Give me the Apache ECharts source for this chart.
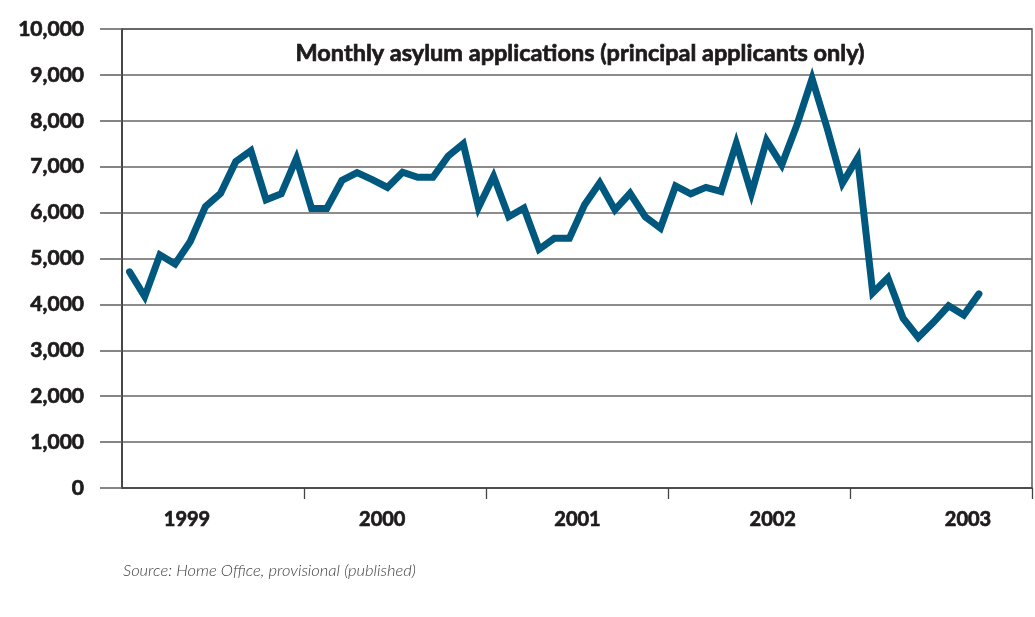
<!DOCTYPE html>
<html>
<head>
<meta charset="utf-8">
<title>Monthly asylum applications</title>
<script src="https://cdn.jsdelivr.net/npm/echarts@6/dist/echarts.min.js"></script>
<style>
  html, body { margin: 0; padding: 0; background: #ffffff; }
  #chart { width: 1035px; height: 617px; }
</style>
</head>
<body>
<div id="chart"></div>
<script>
// Year labels shown under the axis
const years = ['1999', '2000', '2001', '2002', '2003'];

// Monthly principal asylum applications, Jan 1999 onwards
const apps1999 = [4710, 4170, 5080, 4880, 5370, 6130, 6420, 7110, 7350, 6280, 6410, 7180];
const apps2000 = [6090, 6090, 6700, 6870, 6720, 6550, 6880, 6770, 6770, 7230, 7500, 6110];
const apps2001 = [6790, 5910, 6100, 5200, 5440, 5440, 6170, 6650, 6060, 6420, 5910, 5660];
const apps2002 = [6580, 6410, 6550, 6460, 7510, 6420, 7570, 7040, 7910, 8920, 7830, 6640];
const apps2003 = [7190, 4250, 4580, 3700, 3280, 3610, 3970, 3770, 4230];

// Y axis range
const yMin = 0;
const yMax = 10000;
const yStep = 1000;

const months = [];
years.forEach(y => {
  for (let m = 1; m <= 12; m++) months.push(y + '-' + String(m).padStart(2, '0'));
});
const applications = [].concat(apps1999, apps2000, apps2001, apps2002, apps2003);

const FONT = 'Lato, "Open Sans", sans-serif';
const INK = '#1e1b1c';
const GRID = '#666666';
// heavy text: bold face with a thin stroke in the same ink
const heavy = { fontFamily: FONT, fontWeight: 'bold', color: INK, textBorderColor: INK, textBorderWidth: 0.7 };

const chart = echarts.init(document.getElementById('chart'), null, { renderer: 'canvas' });

chart.setOption({
  animation: false,
  backgroundColor: '#ffffff',
  title: [
    {
      text: 'Monthly asylum applications (principal applicants only)',
      left: 575,
      top: 36,
      textAlign: 'center',
      textStyle: Object.assign({ fontSize: 23.5 }, heavy)
    },
    {
      text: 'Source: Home Office, provisional (published)',
      left: 118,
      top: 557,
      textStyle: { fontFamily: FONT, fontStyle: 'italic', fontWeight: 300, fontSize: 16.5, color: '#404040' }
    }
  ],
  grid: [
    { left: 122, right: 3, top: 29, bottom: 129, show: true, borderColor: '#444', borderWidth: 1.3 },
    // band used only to place the year labels
    { left: 187, width: 781, top: 29, bottom: 129 }
  ],
  xAxis: [
    {
      type: 'category',
      gridIndex: 0,
      data: months,
      boundaryGap: true,
      axisLine: { show: true, lineStyle: { color: '#444', width: 1.5 } },
      axisTick: {
        show: true,
        interval: i => i > 0 && i % 12 === 0,
        length: 11,
        lineStyle: { color: '#444', width: 1.3 }
      },
      axisLabel: { show: false },
      splitLine: { show: false }
    },
    {
      type: 'category',
      gridIndex: 1,
      data: years,
      boundaryGap: false,
      axisLine: { show: false },
      axisTick: { show: false },
      axisLabel: Object.assign({ margin: 22, fontSize: 20 }, heavy),
      splitLine: { show: false }
    }
  ],
  yAxis: [
    {
      type: 'value',
      gridIndex: 0,
      min: yMin,
      max: yMax,
      interval: yStep,
      axisLine: { show: true, lineStyle: { color: '#333', width: 1.5 } },
      axisTick: { show: true, length: 22, lineStyle: { color: GRID, width: 1.6 } },
      axisLabel: Object.assign({
        margin: 38,
        fontSize: 21,
        formatter: v => v.toLocaleString('en-US')
      }, heavy),
      splitLine: { show: true, lineStyle: { color: GRID, width: 1.6 } }
    },
    {
      type: 'value',
      gridIndex: 1,
      min: yMin,
      max: yMax,
      show: false
    }
  ],
  series: [
    {
      type: 'line',
      xAxisIndex: 0,
      yAxisIndex: 0,
      data: applications,
      showSymbol: false,
      symbol: 'none',
      lineStyle: { color: '#00587f', width: 7, join: 'miter', cap: 'round' },
      z: 5
    }
  ]
});
</script>
</body>
</html>
